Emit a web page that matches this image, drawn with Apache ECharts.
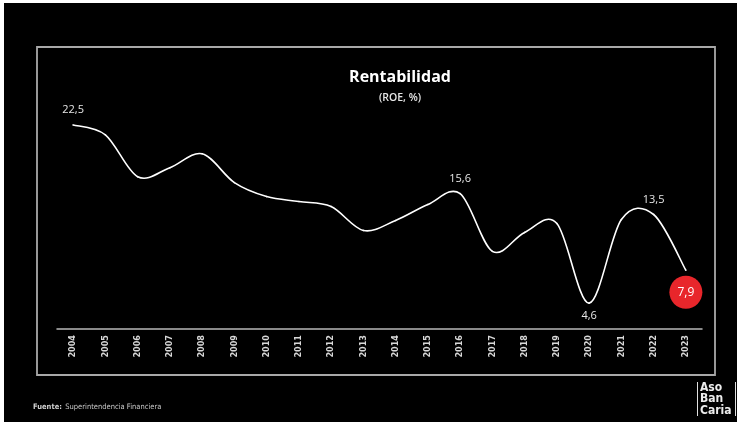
<!DOCTYPE html>
<html>
<head>
<meta charset="utf-8">
<title>Rentabilidad (ROE, %)</title>
<script src="https://cdn.jsdelivr.net/npm/echarts@6/dist/echarts.min.js"></script>
<style>
  html, body { margin: 0; padding: 0; background: #ffffff; }
  #wrap { position: relative; width: 737px; height: 422px; }
  #chart { position: absolute; left: 0; top: 0; width: 737px; height: 422px; }
  .edge { position: absolute; background: #ffffff; }
</style>
</head>
<body>
<div id="wrap">
  <div id="chart"></div>
  <div class="edge" style="left:0;top:0;width:4px;height:422px;"></div>
  <div class="edge" style="left:0;top:0;width:737px;height:3px;"></div>
</div>
<script>
// Años del periodo
const years = ['2004', '2005', '2006', '2007', '2008', '2009', '2010', '2011', '2012', '2013',
               '2014', '2015', '2016', '2017', '2018', '2019', '2020', '2021', '2022', '2023'];

// ROE del sistema (%)
const roe = [22.5, 21.5, 17.3, 18.2, 19.6, 16.7, 15.3, 14.8, 14.3, 11.9,
             12.9, 14.5, 15.6, 9.8, 11.7, 12.6, 4.6, 13.0, 13.5, 7.9];

// Años cuyo valor se rotula sobre/bajo la curva
const labelledAbove = ['2004', '2016', '2022'];
const labelledBelow = ['2020'];
const highlightYear = '2023';

const fmt = v => v.toFixed(1).replace('.', ',');
const last = roe.length - 1;
const clampIdx = k => Math.max(0, Math.min(last, k));

const chart = echarts.init(document.getElementById('chart'));

const labelData = roe.map((v, i) => {
  const y = years[i];
  const item = { value: v };
  if (labelledAbove.includes(y)) {
    item.label = { show: true, position: 'top', distance: 9 };
  } else if (labelledBelow.includes(y)) {
    item.label = { show: true, position: 'bottom', distance: 7 };
  }
  return item;
});

const hiIdx = years.indexOf(highlightYear);

// Curva suavizada tipo Catmull-Rom: cada tramo i -> i+1 es una Bézier cúbica
// cuyos puntos se obtienen con api.coord a partir de los valores de roe.
function renderSegment(params, api) {
  const i = params.dataIndex;
  if (i >= last) return null;
  const pt = k => { const c = clampIdx(k); return api.coord([c, roe[c]]); };
  const p0 = pt(i - 1), p1 = pt(i), p2 = pt(i + 1), p3 = pt(i + 2);
  const t = 1 / 6;
  return {
    type: 'bezierCurve',
    shape: {
      x1: p1[0], y1: p1[1],
      x2: p2[0], y2: p2[1],
      cpx1: p1[0] + (p2[0] - p0[0]) * t,
      cpy1: p1[1] + (p2[1] - p0[1]) * t,
      cpx2: p2[0] - (p3[0] - p1[0]) * t,
      cpy2: p2[1] - (p3[1] - p1[1]) * t
    },
    style: { stroke: '#ffffff', lineWidth: 1.6, fill: 'none', lineCap: 'round' },
    silent: true
  };
}

chart.setOption({
  backgroundColor: '#000000',
  animation: false,
  grid: { left: 57, right: 35, top: 100, bottom: 93 },
  xAxis: {
    type: 'category',
    data: years,
    boundaryGap: true,
    axisLine: { lineStyle: { color: '#b8b8b8', width: 1.5 } },
    axisTick: { show: false },
    axisLabel: {
      rotate: 90,
      margin: 6,
      color: '#d8d8d8',
      fontSize: 9,
      fontWeight: 'bold',
      fontFamily: '"Liberation Sans Narrow", "DejaVu Sans Condensed", sans-serif'
    }
  },
  yAxis: {
    type: 'value',
    min: 2,
    max: 25,
    show: false,
    splitLine: { show: false }
  },
  series: [
    {
      type: 'custom',
      data: roe.map((v, i) => [i, v]),
      encode: { x: 0, y: 1 },
      renderItem: renderSegment,
      z: 2
    },
    {
      type: 'line',
      data: labelData,
      symbol: 'circle',
      symbolSize: 1,
      showSymbol: true,
      itemStyle: { color: 'rgba(0,0,0,0)' },
      lineStyle: { opacity: 0 },
      z: 3,
      label: {
        show: false,
        color: '#e6e6e6',
        fontSize: 11,
        fontFamily: '"Open Sans", sans-serif',
        formatter: p => fmt(p.value)
      },
      markPoint: {
        symbol: 'circle',
        symbolSize: 33,
        symbolOffset: [0, 22],
        itemStyle: { color: '#e8262b' },
        label: {
          show: true,
          color: '#ffffff',
          fontSize: 12,
          fontFamily: '"Open Sans", sans-serif',
          formatter: () => fmt(roe[hiIdx])
        },
        data: [{ coord: [hiIdx, roe[hiIdx]], value: roe[hiIdx] }]
      }
    }
  ],
  graphic: [
    {
      type: 'rect',
      shape: { x: 37, y: 47, width: 678, height: 328 },
      style: { fill: 'none', stroke: '#a8a8a8', lineWidth: 1.8 },
      silent: true
    },
    {
      type: 'text',
      x: 400, y: 77,
      style: {
        text: 'Rentabilidad',
        fill: '#ffffff',
        font: 'bold 16px "Open Sans", sans-serif',
        textAlign: 'center',
        textVerticalAlign: 'middle'
      }
    },
    {
      type: 'text',
      x: 400, y: 98,
      style: {
        text: '(ROE, %)',
        fill: '#e6e6e6',
        font: '600 10.5px "Open Sans", sans-serif',
        textAlign: 'center',
        textVerticalAlign: 'middle'
      }
    },
    {
      type: 'text',
      x: 33, y: 407,
      style: {
        rich: {
          b: { fill: '#d0d0d0', font: 'bold 7.5px "Liberation Sans Narrow", "DejaVu Sans Condensed", sans-serif' },
          n: { fill: '#c8c8c8', font: '7.5px "Liberation Sans Narrow", "DejaVu Sans Condensed", sans-serif' }
        },
        text: '{b|Fuente:} {n|Superintendencia Financiera}',
        textVerticalAlign: 'middle'
      }
    },
    {
      type: 'line',
      shape: { x1: 697.5, y1: 382, x2: 697.5, y2: 416 },
      style: { stroke: '#e0e0e0', lineWidth: 1 }
    },
    {
      type: 'line',
      shape: { x1: 735.5, y1: 382, x2: 735.5, y2: 416 },
      style: { stroke: '#e0e0e0', lineWidth: 1 }
    },
    {
      type: 'text',
      x: 700, y: 382,
      style: {
        text: 'Aso\nBan\nCaria',
        fill: '#ececec',
        font: 'bold 12px "Liberation Sans Narrow", "DejaVu Sans Condensed", sans-serif',
        lineHeight: 11.5,
        textAlign: 'left',
        textVerticalAlign: 'top'
      }
    }
  ]
});
</script>
</body>
</html>
